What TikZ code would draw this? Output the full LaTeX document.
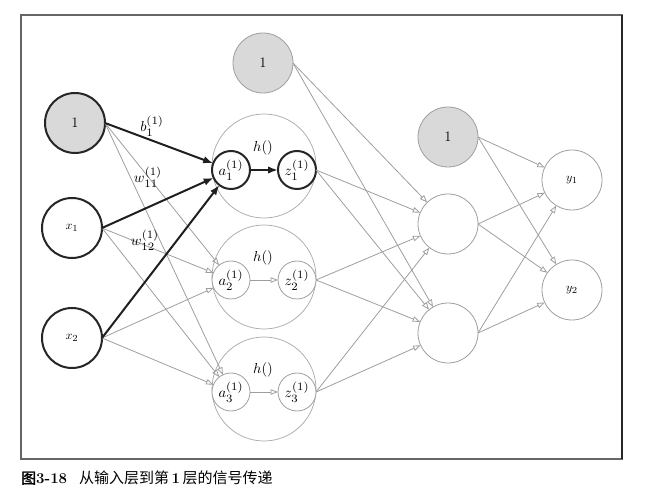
\RequirePackage{fix-cm}
\documentclass[tikz,border=0pt]{standalone}
\usepackage{graphicx}
\usepackage{fontspec}
\newfontfamily\cjk{Noto Sans CJK SC}
\newfontfamily\cjkb{Noto Sans CJK SC}[FakeBold=1.5]
\usetikzlibrary{arrows.meta}
\DeclareMathSizes{10}{10}{7.8}{5.5}
\newcommand{\mlab}[1]{\scalebox{1.45}{$#1$}}
\newcommand{\vlab}[1]{\scalebox{1.2}{$#1$}}
\begin{document}
\begin{tikzpicture}[x=1pt,y=-1pt,
  base/.style={circle,inner sep=0pt,outer sep=0pt,fill=white},
  bignode/.style={base,minimum size=60pt},
  smallnode/.style={base,minimum size=38pt},
  thk/.style={draw=black!85,line width=2pt},
  thn/.style={draw=black!38,line width=0.8pt},
  biasfill/.style={fill=black!15},
  hcirc/.style={circle,inner sep=0pt,outer sep=0pt,minimum size=104pt,draw=black!35,line width=0.7pt},
  lbl/.style={inner sep=0pt},
  numf/.style={font=\fontsize{14.5}{16}\selectfont},
  gedge/.style={draw=black!38,line width=0.8pt,-{Triangle[open,length=7.5pt,width=5.5pt]}},
  kedge/.style={draw=black!88,line width=2pt,-{Latex[length=10pt,width=7.5pt]}}]
\useasboundingbox (0,0) rectangle (656,502);
% frame
\draw[black!60,line width=1.2pt] (21,15) rectangle (622,459);
\draw[black!85,line width=1.2pt] (622,15) -- (622,459);
% hidden big circles
\node[hcirc] (h1) at (264,166) {};
\node[hcirc] (h2) at (264,277) {};
\node[hcirc] (h3) at (264,389) {};
\node[lbl] (hl1) at (263,148) {\mlab{h()}};
\node[lbl] (hl2) at (263,258) {\mlab{h()}};
\node[lbl] (hl3) at (263,370) {\mlab{h()}};
% input layer
\node[bignode,thk,biasfill,numf] (b0) at (75,123) {1};
\node[bignode,thk] (x1) at (72,228) {\vlab{x_1}};
\node[bignode,thk] (x2) at (72,338) {\vlab{x_2}};
% hidden layer 1
\node[smallnode,thk] (a1) at (231,170) {\mlab{a_1^{(1)}}};
\node[smallnode,thk] (z1) at (297,170) {\mlab{z_1^{(1)}}};
\node[smallnode,thn] (a2) at (231,280) {\mlab{a_2^{(1)}}};
\node[smallnode,thn] (z2) at (297,280) {\mlab{z_2^{(1)}}};
\node[smallnode,thn] (a3) at (231,392) {\mlab{a_3^{(1)}}};
\node[smallnode,thn] (z3) at (297,392) {\mlab{z_3^{(1)}}};
\node[bignode,thn,biasfill,numf] (b1) at (263,63) {1};
% hidden layer 2
\node[bignode,thn,biasfill,numf] (b2) at (448,137) {1};
\node[bignode,thn] (m1) at (448,224) {};
\node[bignode,thn] (m2) at (448,333) {};
% output
\node[bignode,thn] (y1) at (572,180) {\vlab{y_1}};
\node[bignode,thn] (y2) at (572,290) {\vlab{y_2}};
% gray edges
\draw[gedge] (b0.east) -- (a2);
\draw[gedge] (b0.east) -- (a3);
\draw[gedge] (x1.east) -- (a2);
\draw[gedge] (x1.east) -- (a3);
\draw[gedge] (x2.east) -- (a2);
\draw[gedge] (x2.east) -- (a3);
\draw[gedge] (a2) -- (z2);
\draw[gedge] (a3) -- (z3);
\draw[gedge] (b1.east) -- (m1);
\draw[gedge] (b1.east) -- (m2);
\draw[gedge] (z1.east) -- (m1);
\draw[gedge] (z1.east) -- (m2);
\draw[gedge] (z2.east) -- (m1);
\draw[gedge] (z2.east) -- (m2);
\draw[gedge] (z3.east) -- (m1);
\draw[gedge] (z3.east) -- (m2);
\draw[gedge] (b2.east) -- (y1);
\draw[gedge] (b2.east) -- (y2);
\draw[gedge] (m1.east) -- (y1);
\draw[gedge] (m1.east) -- (y2);
\draw[gedge] (m2.east) -- (y1);
\draw[gedge] (m2.east) -- (y2);
% black edges
\draw[kedge] (b0.east) -- (a1);
\draw[kedge] (x1.east) -- (a1);
\draw[kedge] (x2.east) -- (a1);
\draw[kedge] (a1) -- (z1);
% weight labels
\node[lbl] (lb) at (152,126) {\mlab{b_1^{(1)}}};
\node[lbl] (lw11) at (148,177) {\mlab{w_{11}^{(1)}}};
\node[lbl] (lw12) at (145,240) {\mlab{w_{12}^{(1)}}};
% caption
\node[anchor=west,inner sep=0pt,font=\fontsize{15}{17}\selectfont] (cap) at (21,478)
  {{\cjkb 图}{\bfseries 3-18}\hspace{12pt}{\cjk 从输入层到第}{\bfseries\,1\,}{\cjk 层的信号传递}};
\end{tikzpicture}
\end{document}
